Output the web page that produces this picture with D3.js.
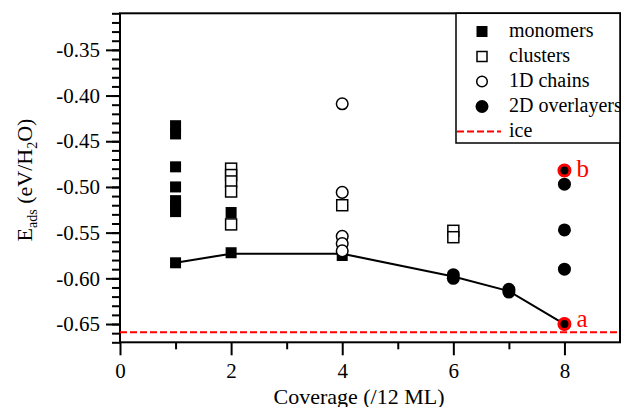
<!DOCTYPE html>
<html>
<head>
<meta charset="utf-8">
<script src="https://cdn.jsdelivr.net/npm/d3@7"></script>
<style>
body { margin: 0; background: #fff; }
text { font-family: "Liberation Serif", "Times New Roman", serif; }
</style>
</head>
<body>
<div class="graph-bd"></div>
<script>
// data
var monomersX = [1, 1, 1, 1, 1, 1, 1, 1, 2, 2, 4];
var monomersY = [-0.433, -0.442, -0.478, -0.500, -0.515, -0.521, -0.527, -0.583, -0.528, -0.572, -0.575];

var clustersX = [2, 2, 2, 2, 2, 4, 6, 6];
var clustersY = [-0.480, -0.487, -0.494, -0.505, -0.541, -0.520, -0.548, -0.555];

var chainsX = [4, 4, 4, 4, 4];
var chainsY = [-0.409, -0.506, -0.554, -0.562, -0.570];

var overlayersX = [6, 6, 7, 7, 8, 8, 8, 8, 8];
var overlayersY = [-0.596, -0.600, -0.612, -0.615, -0.482, -0.497, -0.547, -0.590, -0.650];

var lowestX = [1, 2, 4, 6, 7, 8];
var lowestY = [-0.583, -0.573, -0.573, -0.598, -0.614, -0.650];

var iceE = -0.659;

var markLabels = ["a", "b"];
var markX = [8, 8];
var markY = [-0.650, -0.482];

var xMajorTicks = [0, 2, 4, 6, 8];
var xMinorTicks = [1, 3, 5, 7];
var yMajorTicks = [-0.65, -0.60, -0.55, -0.50, -0.45, -0.40, -0.35];

var legendNames = ["monomers", "clusters", "1D chains", "2D overlayers", "ice"];

var width = 621, height = 407;
var plotLeft = 120, plotRight = 620, plotTop = 13.3, plotBottom = 342.3;

var x = d3.scaleLinear().domain([0, 9]).range([plotLeft, plotRight]);
var y = d3.scaleLinear().domain([-0.67, -0.31]).range([plotBottom, plotTop]);

var svg = d3.select(".graph-bd")
    .append("svg")
    .attr("width", width)
    .attr("height", height)
    .attr("font-family", "Liberation Serif");

function zip(xs, ys) {
    return xs.map(function(v, i) { return [v, ys[i]]; });
}

function styleAxis(g) {
    g.attr("font-family", "Liberation Serif");
    g.select(".domain").remove();
    g.selectAll("line").attr("stroke-width", 2);
    g.selectAll("text").attr("font-size", 21).attr("fill", "#000");
}

// axes
var yMinor = d3.range(-67, -30).map(function(d) { return d / 100; });
svg.append("g")
    .attr("transform", "translate(" + plotLeft + ",0)")
    .call(d3.axisLeft(y).tickValues(yMinor).tickSize(8).tickFormat(""))
    .call(styleAxis);

svg.append("g")
    .attr("transform", "translate(" + plotLeft + ",0)")
    .call(d3.axisLeft(y).tickValues(yMajorTicks).tickSize(14).tickPadding(6)
        .tickFormat(function(d) { return d.toFixed(2); }))
    .call(styleAxis);

svg.append("g")
    .attr("transform", "translate(0," + plotBottom + ")")
    .call(d3.axisBottom(x).tickValues(xMinorTicks).tickSize(7).tickFormat(""))
    .call(styleAxis);

svg.append("g")
    .attr("transform", "translate(0," + plotBottom + ")")
    .call(d3.axisBottom(x).tickValues(xMajorTicks).tickSize(13).tickPadding(8))
    .call(styleAxis);

// frame
svg.append("rect")
    .attr("x", plotLeft).attr("y", plotTop)
    .attr("width", plotRight - plotLeft).attr("height", plotBottom - plotTop)
    .attr("fill", "none").attr("stroke", "#000").attr("stroke-width", 2);

// ice line
svg.append("line")
    .attr("x1", plotLeft).attr("x2", plotRight)
    .attr("y1", y(iceE)).attr("y2", y(iceE))
    .attr("stroke", "#f00").attr("stroke-width", 2)
    .attr("stroke-dasharray", "7,3");

// lowest energy line
svg.append("path")
    .datum(zip(lowestX, lowestY))
    .attr("d", d3.line().x(function(d) { return x(d[0]); }).y(function(d) { return y(d[1]); }))
    .attr("fill", "none").attr("stroke", "#000").attr("stroke-width", 2);

var sq = 11;
svg.append("g").selectAll("rect")
    .data(zip(clustersX, clustersY)).enter().append("rect")
    .attr("x", function(d) { return x(d[0]) - sq / 2; })
    .attr("y", function(d) { return y(d[1]) - sq / 2; })
    .attr("width", sq).attr("height", sq)
    .attr("fill", "#fff").attr("stroke", "#000").attr("stroke-width", 1.5);

svg.append("g").selectAll("rect")
    .data(zip(monomersX, monomersY)).enter().append("rect")
    .attr("x", function(d) { return x(d[0]) - sq / 2; })
    .attr("y", function(d) { return y(d[1]) - sq / 2; })
    .attr("width", sq).attr("height", sq)
    .attr("fill", "#000");

svg.append("g").selectAll("circle")
    .data(zip(chainsX, chainsY)).enter().append("circle")
    .attr("cx", function(d) { return x(d[0]); })
    .attr("cy", function(d) { return y(d[1]); })
    .attr("r", 5.8)
    .attr("fill", "#fff").attr("stroke", "#000").attr("stroke-width", 1.5);

svg.append("g").selectAll("circle")
    .data(zip(overlayersX, overlayersY)).enter().append("circle")
    .attr("cx", function(d) { return x(d[0]); })
    .attr("cy", function(d) { return y(d[1]); })
    .attr("r", 6.5)
    .attr("fill", "#000");

// red marks a / b
svg.append("g").selectAll("circle")
    .data(zip(markX, markY)).enter().append("circle")
    .attr("cx", function(d) { return x(d[0]); })
    .attr("cy", function(d) { return y(d[1]); })
    .attr("r", 5.5)
    .attr("fill", "none").attr("stroke", "#f00").attr("stroke-width", 3);

svg.append("g").selectAll("text")
    .data(markLabels).enter().append("text")
    .attr("x", function(d, i) { return x(markX[i]) + 12; })
    .attr("y", function(d, i) { return y(markY[i]) + (d == "a" ? 3 : 7); })
    .attr("font-size", 25)
    .attr("fill", "#f00")
    .text(function(d) { return d; });

// legend
var lg = svg.append("g");
lg.append("rect")
    .attr("x", 456).attr("y", plotTop)
    .attr("width", plotRight - 456).attr("height", 143 - plotTop)
    .attr("fill", "#fff").attr("stroke", "#000").attr("stroke-width", 1.5);

var symX = 482, rowY = function(i) { return 31.5 + i * 25; };
lg.append("rect").attr("x", symX - 5.5).attr("y", rowY(0) - 5.5)
    .attr("width", sq).attr("height", sq).attr("fill", "#000");
lg.append("rect").attr("x", symX - 5).attr("y", rowY(1) - 5)
    .attr("width", 10).attr("height", 10)
    .attr("fill", "#fff").attr("stroke", "#000").attr("stroke-width", 1.5);
lg.append("circle").attr("cx", symX).attr("cy", rowY(2)).attr("r", 5.3)
    .attr("fill", "#fff").attr("stroke", "#000").attr("stroke-width", 1.5);
lg.append("circle").attr("cx", symX).attr("cy", rowY(3)).attr("r", 6.5)
    .attr("fill", "#000");
lg.append("line").attr("x1", 457).attr("x2", 501)
    .attr("y1", rowY(4)).attr("y2", rowY(4))
    .attr("stroke", "#f00").attr("stroke-width", 2).attr("stroke-dasharray", "7,3");

lg.selectAll("text.name")
    .data(legendNames).enter().append("text")
    .attr("class", "name")
    .attr("x", 509)
    .attr("y", function(d, i) { return rowY(i) + 5.5; })
    .attr("font-size", 20)
    .text(function(d) { return d; });

// axis titles
svg.append("text")
    .attr("x", 359).attr("y", 404)
    .attr("text-anchor", "middle")
    .attr("font-size", 22)
    .text("Coverage (/12 ML)");

var yt = svg.append("text")
    .attr("transform", "translate(32,180) rotate(-90)")
    .attr("text-anchor", "middle")
    .attr("font-size", 22);
yt.append("tspan").text("E");
yt.append("tspan").attr("font-size", 14).attr("dy", 5).text("ads");
yt.append("tspan").attr("dy", -5).text(" (eV/H");
yt.append("tspan").attr("font-size", 14).attr("dy", 5).text("2");
yt.append("tspan").attr("dy", -5).text("O)");
</script>
</body>
</html>
